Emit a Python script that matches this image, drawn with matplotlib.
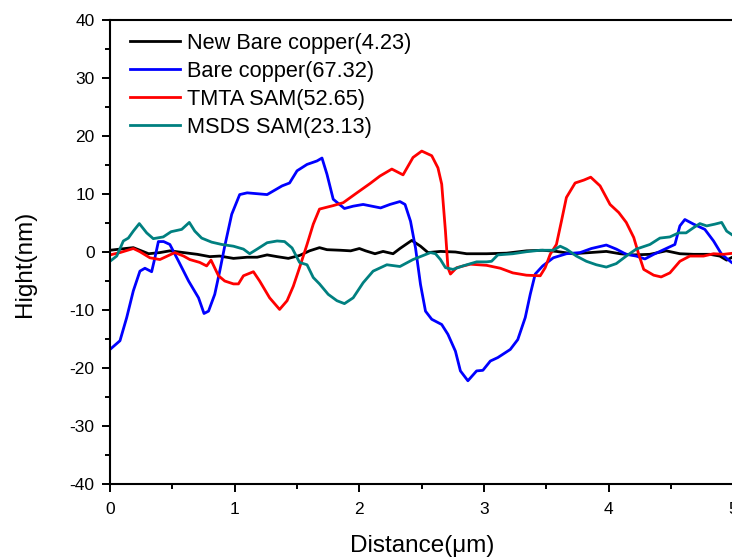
import matplotlib
matplotlib.use("Agg")
import matplotlib.pyplot as plt
from matplotlib.ticker import MultipleLocator

plt.rcParams["font.family"] = ["Liberation Sans", "DejaVu Sans"]
plt.rcParams["axes.unicode_minus"] = False

new_x = [0, 0.08, 0.187, 0.24, 0.31, 0.40, 0.48, 0.59, 0.70, 0.80, 0.88, 0.99, 1.10, 1.18,
         1.26, 1.34, 1.43, 1.52, 1.60, 1.68, 1.74, 1.85, 1.93, 2.00, 2.05, 2.125, 2.19, 2.27,
         2.325, 2.42, 2.49, 2.55, 2.65, 2.77, 2.86, 3.02, 3.18, 3.34, 3.47, 3.58, 3.71, 3.85,
         3.98, 4.09, 4.20, 4.33, 4.46, 4.57, 4.68, 4.81, 4.89, 4.945, 5.0]
new_y = [0.3, 0.5, 0.75, 0.3, -0.3, -0.1, 0.2, -0.1, -0.4, -0.8, -0.7, -1.1, -0.9, -0.9,
         -0.5, -0.8, -1.1, -0.6, 0.2, 0.75, 0.4, 0.3, 0.2, 0.6, 0.2, -0.3, 0.1, -0.3,
         0.6, 2.0, 1.0, -0.1, 0.1, 0.0, -0.3, -0.3, -0.2, 0.2, 0.3, 0.1, -0.3, -0.1,
         0.1, -0.3, -0.5, -0.4, 0.2, -0.3, -0.4, -0.4, -0.7, -1.4, -0.8]

bare_x = [0, 0.08, 0.134, 0.187, 0.24, 0.28, 0.334, 0.36, 0.388, 0.43, 0.48, 0.55, 0.63,
          0.71, 0.754, 0.79, 0.84, 0.88, 0.92, 0.976, 1.04, 1.10, 1.26, 1.38, 1.44, 1.50,
          1.58, 1.66, 1.70, 1.74, 1.79, 1.88, 1.95, 2.03, 2.17, 2.245, 2.325, 2.366, 2.41,
          2.45, 2.49, 2.53, 2.58, 2.66, 2.71, 2.77, 2.81, 2.87, 2.94, 2.99, 3.05, 3.11,
          3.21, 3.27, 3.33, 3.37, 3.41, 3.47, 3.555, 3.66, 3.77, 3.86, 3.98, 4.06, 4.14,
          4.22, 4.29, 4.36, 4.45, 4.53, 4.57, 4.61, 4.68, 4.77, 4.84, 4.905, 4.985, 5.0]
bare_y = [-16.8, -15.3, -11.3, -6.7, -3.3, -2.8, -3.4, -1.0, 1.8, 1.8, 1.3, -1.6, -5.0,
          -7.9, -10.6, -10.2, -7.3, -3.3, 1.0, 6.5, 9.9, 10.2, 9.9, 11.4, 11.9, 14.0,
          15.1, 15.7, 16.2, 13.4, 9.1, 7.5, 7.9, 8.2, 7.6, 8.2, 8.7, 8.2, 5.3,
          0.7, -5.6, -10.2, -11.6, -12.5, -14.2, -17.1, -20.5, -22.2, -20.5, -20.4, -18.8, -18.2,
          -16.8, -15.1, -11.3, -7.3, -3.8, -2.4, -1.0, -0.3, -0.1, 0.6, 1.2, 0.5, -0.4,
          -0.7, -1.2, -0.4, 0.5, 1.3, 4.5, 5.6, 4.8, 3.9, 1.9, -0.4, -1.8, -2.0]

tmta_x = [0, 0.08, 0.187, 0.24, 0.32, 0.40, 0.47, 0.52, 0.59, 0.64, 0.72, 0.775, 0.81,
          0.87, 0.92, 0.99, 1.03, 1.07, 1.15, 1.20, 1.28, 1.36, 1.42, 1.47, 1.52, 1.58,
          1.63, 1.68, 1.79, 1.87, 1.98, 2.085, 2.165, 2.26, 2.35, 2.43, 2.50, 2.58, 2.63,
          2.66, 2.69, 2.71, 2.73, 2.78, 2.89, 3.02, 3.13, 3.23, 3.34, 3.45, 3.49, 3.53,
          3.58, 3.62, 3.66, 3.73, 3.80, 3.855, 3.93, 4.01, 4.08, 4.14, 4.20, 4.24, 4.28,
          4.36, 4.42, 4.49, 4.57, 4.65, 4.76, 4.84, 4.92, 5.0]
tmta_y = [-0.5, -0.1, 0.6, 0.05, -1.0, -1.3, -0.6, -0.1, -0.7, -1.3, -1.8, -2.4, -1.4,
          -4.1, -5.0, -5.5, -5.5, -4.1, -3.4, -5.0, -7.9, -9.9, -8.4, -5.9, -2.7, 1.3,
          4.8, 7.4, 8.0, 8.5, 10.2, 11.8, 13.1, 14.3, 13.3, 16.3, 17.4, 16.6, 14.5,
          11.7, 3.6, -2.7, -3.8, -2.7, -2.1, -2.3, -2.8, -3.6, -4.0, -4.1, -2.7, -0.4,
          1.3, 5.3, 9.4, 11.9, 12.4, 12.9, 11.4, 8.2, 6.8, 5.1, 2.5, -0.4, -3.0,
          -4.0, -4.3, -3.6, -1.6, -0.7, -0.7, -0.3, -0.4, -0.2]

msds_x = [0, 0.054, 0.107, 0.147, 0.187, 0.235, 0.294, 0.347, 0.427, 0.49, 0.575, 0.636,
          0.68, 0.735, 0.815, 0.896, 0.99, 1.07, 1.12, 1.18, 1.26, 1.34, 1.40, 1.46, 1.52,
          1.58, 1.63, 1.68, 1.75, 1.82, 1.88, 1.95, 2.03, 2.11, 2.22, 2.325, 2.43, 2.57,
          2.61, 2.65, 2.69, 2.75, 2.83, 2.94, 3.02, 3.06, 3.11, 3.23, 3.34, 3.45, 3.555,
          3.61, 3.66, 3.74, 3.82, 3.90, 3.98, 4.06, 4.14, 4.22, 4.33, 4.41, 4.49, 4.56,
          4.62, 4.68, 4.73, 4.785, 4.85, 4.905, 4.945, 5.0]
msds_y = [-1.6, -0.7, 1.9, 2.4, 3.6, 4.9, 3.3, 2.3, 2.6, 3.5, 3.9, 5.1,
          3.6, 2.4, 1.7, 1.3, 1.0, 0.5, -0.3, 0.5, 1.6, 1.9, 1.8, 0.7, -1.8,
          -2.2, -4.4, -5.5, -7.3, -8.4, -8.9, -7.9, -5.3, -3.3, -2.2, -2.5, -1.3, -0.1,
          -0.3, -1.3, -2.7, -3.0, -2.4, -1.7, -1.7, -1.6, -0.5, -0.3, 0.05, 0.3, 0.3,
          1.0, 0.5, -0.7, -1.6, -2.2, -2.6, -2.0, -0.7, 0.5, 1.3, 2.4, 2.6, 3.3,
          3.3, 4.2, 4.9, 4.5, 4.8, 5.1, 3.6, 2.8]

labels = ["New Bare copper(4.23)", "Bare copper(67.32)", "TMTA SAM(52.65)", "MSDS SAM(23.13)"]
colors = ["black", "#0000ff", "#ff0000", "#008080"]

fig = plt.figure(figsize=(7.32, 5.57), dpi=100)
ax = fig.add_axes([110 / 732, 73 / 557, 623.5 / 732, 464 / 557])

series = [(new_x, new_y), (bare_x, bare_y), (tmta_x, tmta_y), (msds_x, msds_y)]
for (xs, ys), lab, col in zip(series, labels, colors):
    ax.plot(xs, ys, color=col, lw=2, label=lab, solid_joinstyle="round")

ax.set_xlim(0, 5)
ax.set_ylim(-40, 40)
ax.xaxis.set_major_locator(MultipleLocator(1))
ax.xaxis.set_minor_locator(MultipleLocator(0.5))
ax.yaxis.set_major_locator(MultipleLocator(10))
ax.yaxis.set_minor_locator(MultipleLocator(5))
ax.tick_params(which="both", direction="out", width=1.4, labelsize=12.5, top=False, right=False)
ax.tick_params(which="major", length=6, pad=5)
ax.tick_params(axis="x", which="major", pad=7)
ax.tick_params(which="minor", length=3.5)
for sp in ax.spines.values():
    sp.set_linewidth(1.5)

ax.set_xlabel("Distance(μm)", fontsize=17.5)
ax.set_ylabel("Hight(nm)", fontsize=17.5)
ax.xaxis.set_label_coords(0.5, -0.11)
ax.yaxis.set_label_coords(-0.119, 0.475)

ax.legend(loc="upper left", bbox_to_anchor=(0.032, 0.972), frameon=False, fontsize=15.7,
          handlelength=2.3, handletextpad=0.3, labelspacing=0.32, borderpad=0,
          borderaxespad=0)

fig.savefig("out.png", dpi=100)
